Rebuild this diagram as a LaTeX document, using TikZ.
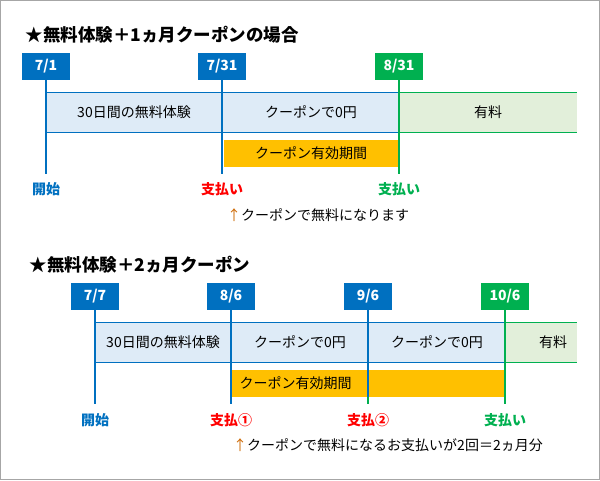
\documentclass[tikz,border=0pt]{standalone}
\usepackage{fontspec}
\setmainfont{Noto Sans CJK JP}
\usetikzlibrary{positioning}
\definecolor{cblue}{HTML}{0070C0}
\definecolor{cgreen}{HTML}{00B050}
\definecolor{cyel}{HTML}{FFC000}
\definecolor{fblue}{HTML}{DEEBF7}
\definecolor{fgreen}{HTML}{E2EFDA}
\tikzset{
  date/.style={fill=#1,text=white,font=\fontsize{14}{14}\selectfont\bfseries,minimum width=48pt,minimum height=27pt,inner sep=0pt},
  mark/.style={font=\fontsize{14}{14}\selectfont\bfseries,text=#1},
  txt/.style={font=\fontsize{14}{14}\selectfont},
  ttl/.style={font=\fontsize{17.5}{17.5}\selectfont\bfseries,anchor=west},
  tl/.style={line width=2.2pt,draw=#1},
}
\begin{document}
\begin{tikzpicture}[x=1pt,y=-1pt]
\useasboundingbox (0,0) rectangle (600,480);
\draw[gray!70,line width=1pt] (0.5,0.5) rectangle (599.5,479.5);

% first case
\node (t1) [ttl] at (22,35) {★無料体験＋1ヵ月クーポンの場合};
\fill[fblue] (46,92) rectangle (399,132);
\fill[fgreen] (399,92) rectangle (577,132);
\draw[cblue,line width=1pt] (46,92) -- (399,92) (46,132) -- (399,132);
\draw[cgreen,line width=1pt] (399,92) -- (577,92) (399,132) -- (577,132);
\fill[cyel] (224,140) rectangle (399,167);
\node (a1) [txt] at (134,112) {30日間の無料体験};
\node (a2) [txt] at (311,112) {クーポンで0円};
\node (a3) [txt] at (488,112) {有料};
\node (a4) [txt] at (311,153) {クーポン有効期間};

\node (d11) [date=cblue] at (46,66) {7/1};
\node (d12) [date=cblue] at (222,66) {7/31};
\node (d13) [date=cgreen] at (399,66) {8/31};
\coordinate (e11) at (46,174);
\coordinate (e12) at (222,174);
\coordinate (e13) at (399,174);
\draw[tl=cblue] (d11.south) -- (e11);
\draw[tl=cblue] (d12.south) -- (e12);
\draw[tl=cgreen] (d13.south) -- (e13);
\node (m11) [mark=cblue] at (46,189) {開始};
\node (m12) [mark=red] at (222,189) {支払い};
\node (m13) [mark=cgreen] at (399,189) {支払い};
\node (n1) [txt] at (318,215) {\textcolor{orange!80!black}{↑}クーポンで無料になります};

% second case
\node (t2) [ttl] at (26,265) {★無料体験＋2ヵ月クーポン};
\fill[fblue] (95,322) rectangle (505,362);
\fill[fgreen] (505,322) rectangle (577,362);
\draw[cblue,line width=1pt] (95,322) -- (505,322) (95,362) -- (505,362);
\draw[cgreen,line width=1pt] (505,322) -- (577,322) (505,362) -- (577,362);
\fill[cyel] (231,370) rectangle (505,397);
\node (b1) [txt] at (163,342) {30日間の無料体験};
\node (b2) [txt] at (300,342) {クーポンで0円};
\node (b3) [txt] at (437,342) {クーポンで0円};
\node (b4) [txt] at (553,342) {有料};
\node (b5) [txt,anchor=west] at (236,383) {クーポン有効期間};

\node (d21) [date=cblue] at (95,296) {7/7};
\node (d22) [date=cblue] at (231,296) {8/6};
\node (d23) [date=cblue] at (368,296) {9/6};
\node (d24) [date=cgreen] at (505,296) {10/6};
\coordinate (e21) at (95,404);
\coordinate (e22) at (231,404);
\coordinate (e23) at (368,397);
\coordinate (f23) at (368,404);
\coordinate (e24) at (505,404);
\draw[tl=cblue] (d21.south) -- (e21);
\draw[tl=cblue] (d22.south) -- (e22);
\draw[tl=cgreen] (e23) -- (f23);
\draw[tl=cblue] (d23.south) -- (e23);
\draw[tl=cgreen] (d24.south) -- (e24);
\node (m21) [mark=cblue] at (95,420) {開始};
\node (m22) [mark=red] at (231,420) {支払①};
\node (m23) [mark=red] at (368,420) {支払②};
\node (m24) [mark=cgreen] at (505,420) {支払い};
\node (n2) [txt] at (388,445) {\textcolor{orange!80!black}{↑}クーポンで無料になるお支払いが2回＝2ヵ月分};
\end{tikzpicture}
\end{document}
